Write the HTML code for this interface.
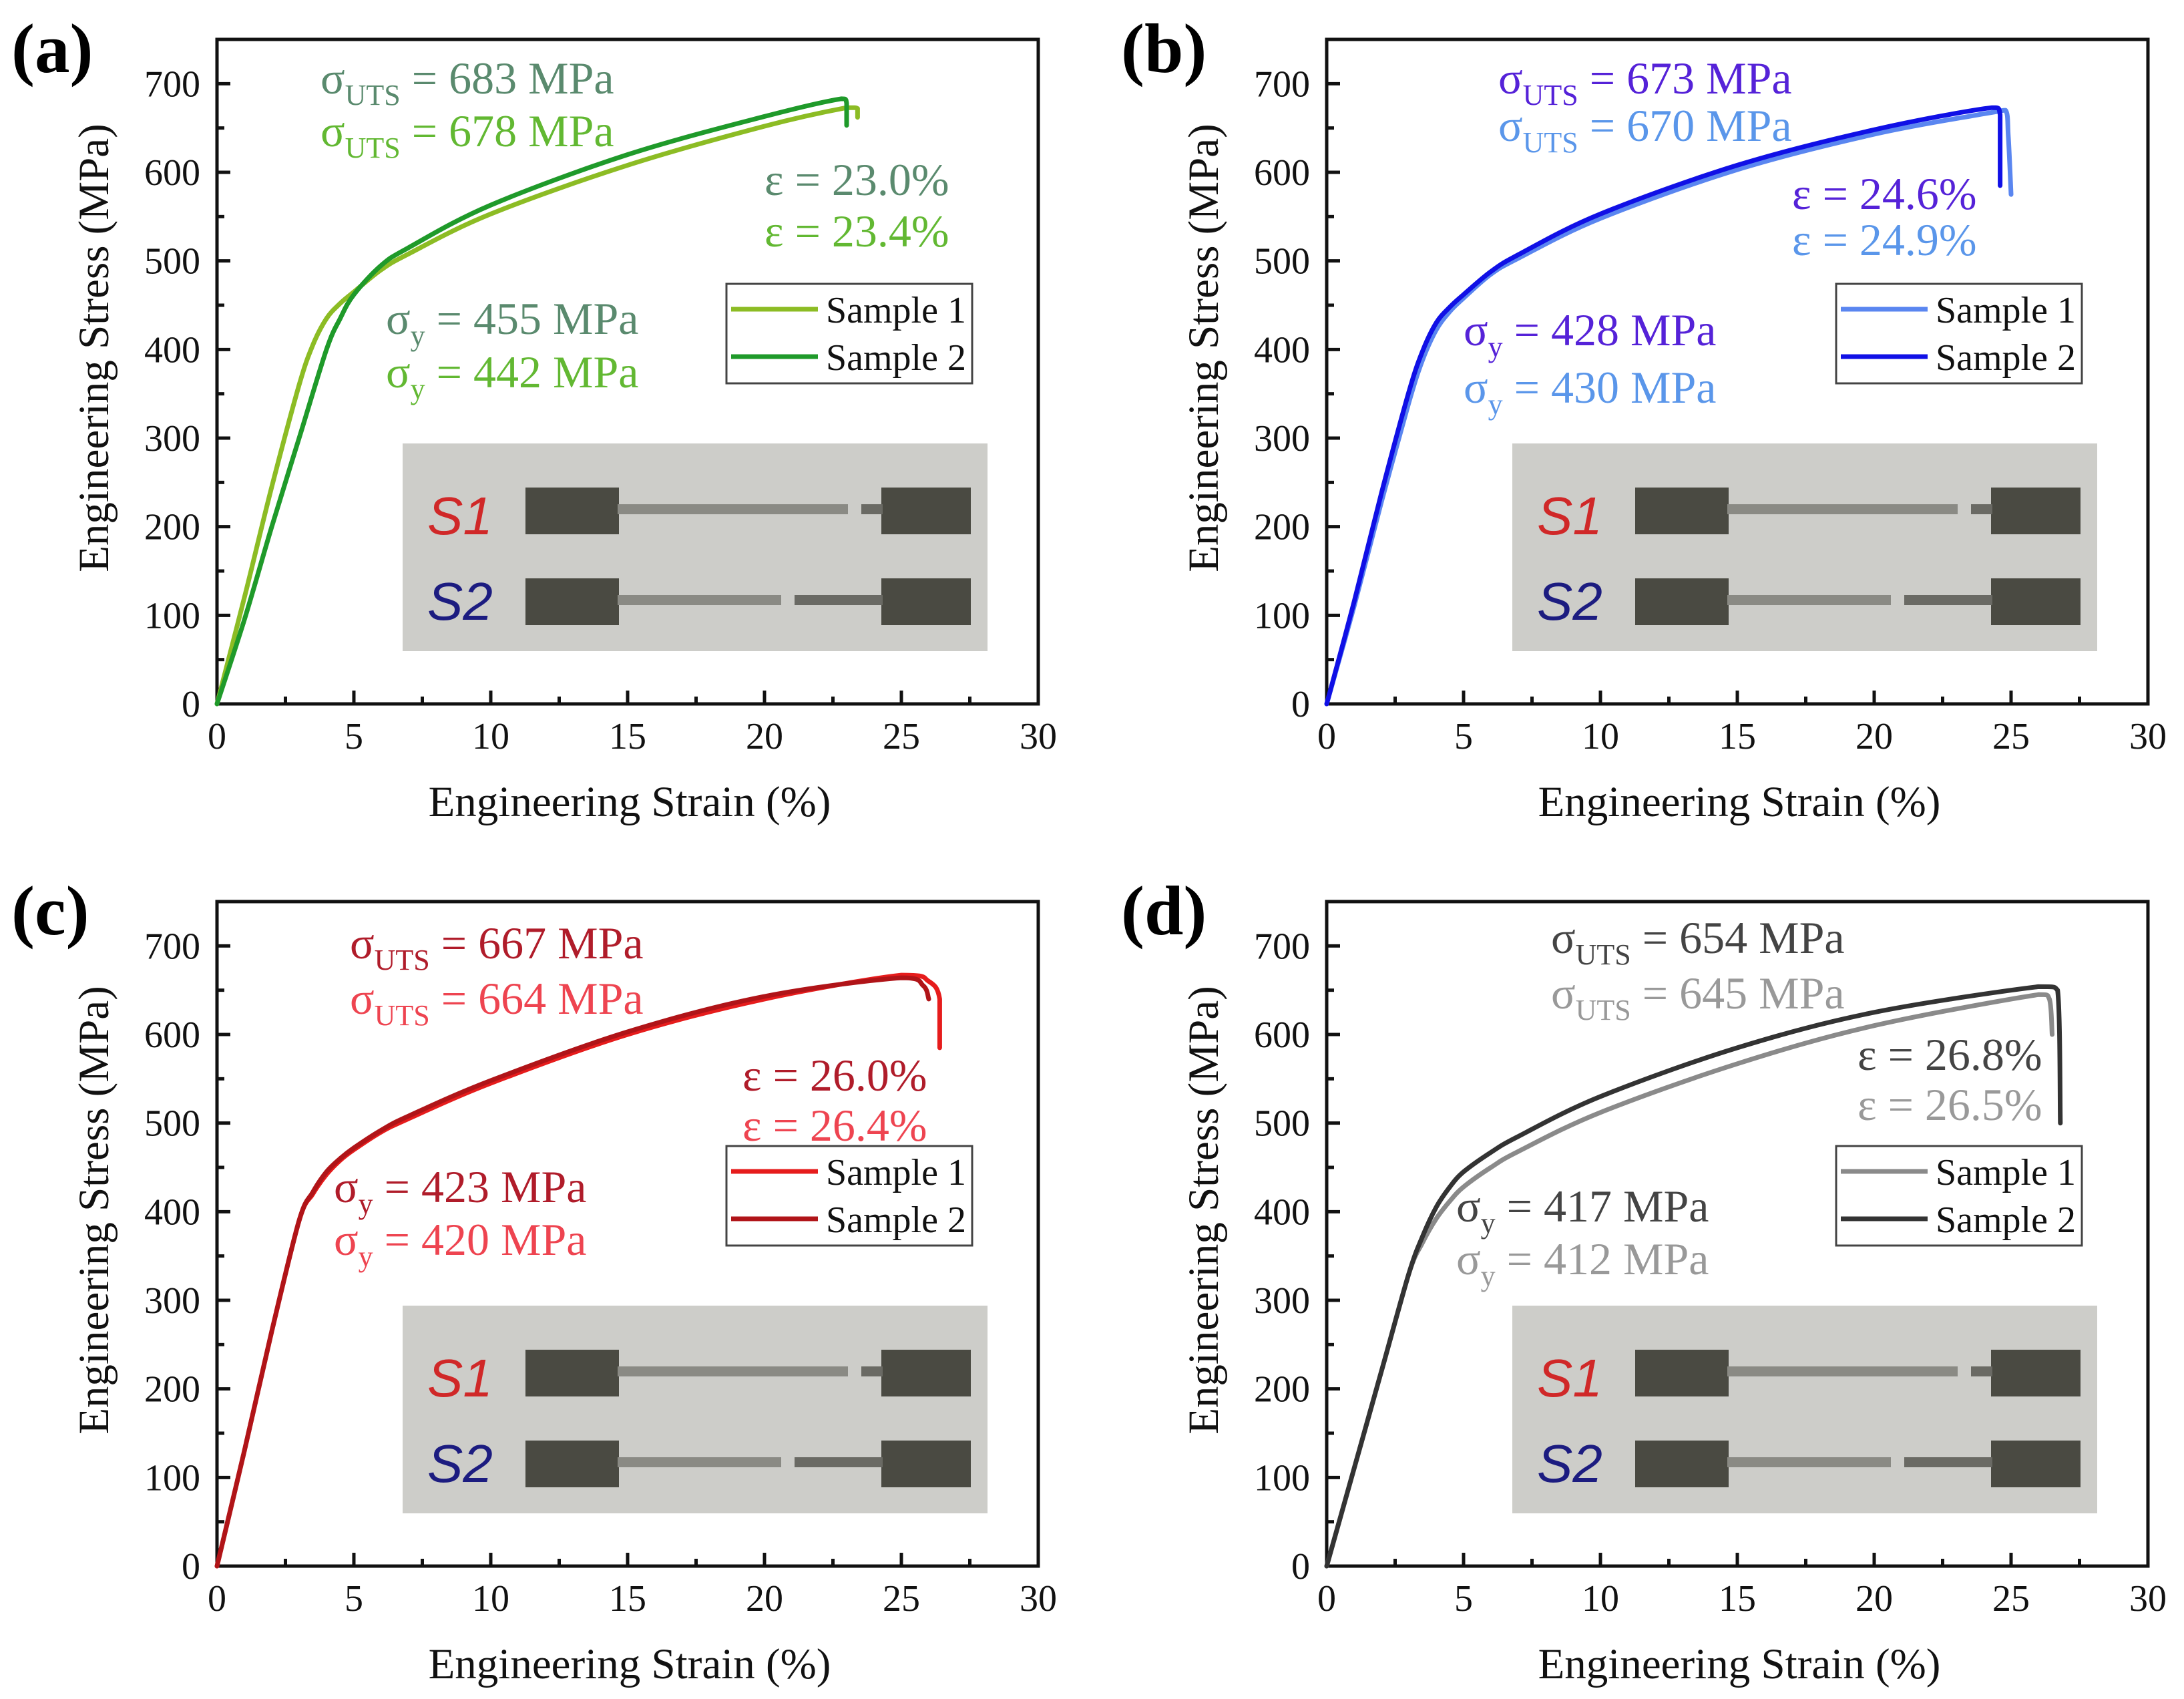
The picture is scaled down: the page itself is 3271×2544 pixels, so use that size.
<!DOCTYPE html>
<html><head><meta charset="utf-8"><style>
html,body{margin:0;padding:0;background:#fff;}
svg{display:block;font-family:"Liberation Serif",serif;}
</style></head><body>
<svg id="fig" width="3271" height="2544" viewBox="0 0 3271 2544" xmlns="http://www.w3.org/2000/svg"></svg>
<script>
// ---- data (strain %, stress MPa) ----
const aS1x=[0,1,2,3,3.5,4,4.5,5,6,7,10,15,20,23,23.4,23.4];
const aS1y=[0,120,245,360,405,435,452,465,490,508,553,608,652,673,672,662];
const aS2x=[0,1,2,3,4,4.5,5,6,7,10,15,20,22.8,23.0,23.0];
const aS2y=[0,95,200,300,400,435,462,495,515,563,620,663,683,678,653];
const bS1x=[0,1,2,3,3.5,4,4.5,5,6,7,10,15,20,24,24.8,24.9,25];
const bS1y=[0,110,228,340,388,422,443,458,485,503,548,603,643,666,670,640,575];
const bS2x=[0,1,2,3,3.5,4,4.5,5,6,7,10,15,20,24.3,24.6,24.6];
const bS2y=[0,115,238,352,398,430,448,462,488,507,553,608,648,673,665,585];
const cS1x=[0,1,2,3,3.5,4,4.5,5,6,7,10,15,20,25,26,26.4,26.4];
const cS1y=[0,130,265,390,420,442,458,470,490,505,545,600,640,667,660,640,585];
const cS2x=[0,1,2,3,3.5,4,4.5,5,6,7,10,15,20,25,25.8,26];
const cS2y=[0,130,265,390,422,445,460,472,492,508,548,603,643,664,655,640];
const dS1x=[0,1,2,3,3.5,4,4.5,5,6,7,10,15,20,26,26.4,26.5];
const dS1y=[0,110,220,330,365,392,412,428,450,468,512,567,610,645,640,600];
const dS2x=[0,1,2,3,3.5,4,4.5,5,6,7,10,15,20,26,26.7,26.8];
const dS2y=[0,110,220,330,372,405,428,445,467,485,530,585,625,654,650,500];
const xTicks=[0,5,10,15,20,25,30];
const yTicks=[0,100,200,300,400,500,600,700];

const panels=[
 {id:'a',ox:0,oy:0,s1x:aS1x,s1y:aS1y,s2x:aS2x,s2y:aS2y,c1:'#8cbc24',c2:'#1f9a2a',t1:'#5a8a6e',t2:'#62b832',
  uts:['683','678'],eps:['23.0%','23.4%'],ys:['455','442'],ux:480,uy:[140,219],ex:1145,ey:[292,369],yx:578,yy:[500,580]},
 {id:'b',ox:1662,oy:0,s1x:bS1x,s1y:bS1y,s2x:bS2x,s2y:bS2y,c1:'#5a86f0',c2:'#1010e6',t1:'#5522d8',t2:'#5a96ea',
  uts:['673','670'],eps:['24.6%','24.9%'],ys:['428','430'],ux:582,uy:[140,211],ex:1022,ey:[313,382],yx:530,yy:[517,603]},
 {id:'c',ox:0,oy:1291,s1x:cS1x,s1y:cS1y,s2x:cS2x,s2y:cS2y,c1:'#e61c1c',c2:'#b01418',t1:'#b01c2a',t2:'#ee4450',
  uts:['667','664'],eps:['26.0%','26.4%'],ys:['423','420'],ux:524,uy:[144,227],ex:1112,ey:[342,417],yx:500,yy:[509,588]},
 {id:'d',ox:1662,oy:1291,s1x:dS1x,s1y:dS1y,s2x:dS2x,s2y:dS2y,c1:'#8a8a8a',c2:'#333333',t1:'#444444',t2:'#999999',
  uts:['654','645'],eps:['26.8%','26.5%'],ys:['417','412'],ux:661,uy:[136,219],ex:1120,ey:[311,386],yx:519,yy:[538,617]}
];

const NS='http://www.w3.org/2000/svg';
const svg=document.getElementById('fig');
function mk(tag,attrs,parent){const e=document.createElementNS(NS,tag);for(const k in attrs)e.setAttribute(k,attrs[k]);(parent||svg).appendChild(e);return e;}
const X0=325,X1=1555,Y0=1054,Y1=59;
function sx(v){return X0+(v/30)*(X1-X0);}
function sy(v){return Y0-(v/750)*(Y0-Y1);}
function clamp(v,a,b){const lo=Math.min(a,b),hi=Math.max(a,b);return Math.max(lo,Math.min(hi,v));}
function smooth(xs,ys){
  const P=xs.map((v,i)=>[sx(v),sy(ys[i])]);
  let d='M'+P[0][0].toFixed(1)+','+P[0][1].toFixed(1);
  for(let i=0;i<P.length-1;i++){
    const p0=P[Math.max(0,i-1)],p1=P[i],p2=P[i+1],p3=P[Math.min(P.length-1,i+2)];
    const k=1/6;
    const c1=[clamp(p1[0]+(p2[0]-p0[0])*k,p1[0],p2[0]),clamp(p1[1]+(p2[1]-p0[1])*k,p1[1],p2[1])];
    const c2=[clamp(p2[0]-(p3[0]-p1[0])*k,p1[0],p2[0]),clamp(p2[1]-(p3[1]-p1[1])*k,p1[1],p2[1])];
    d+=' C'+c1.map(v=>v.toFixed(1)).join(',')+' '+c2.map(v=>v.toFixed(1)).join(',')+' '+p2[0].toFixed(1)+','+p2[1].toFixed(1);
  }
  return d;
}

panels.forEach(p=>{
 const g=mk('g',{transform:`translate(${p.ox},${p.oy})`});
 
 
 const lab=mk('text',{x:17,y:108,'font-size':105,'font-weight':'bold',fill:'#000'},g);
 lab.textContent='('+p.id+')';
 
 
 // inset photo
 const ins=mk('g',{},g);
 
 
 mk('rect',{x:603,y:664,width:876,height:311,fill:'#cdcdc9'},ins);
 const sp=(y,gap)=>{
   mk('rect',{x:787,y:y,width:140,height:70,fill:'#4a4a42'},ins);
   mk('rect',{x:1320,y:y,width:134,height:70,fill:'#4a4a42'},ins);
   mk('rect',{x:925,y:y+25,width:gap-925,height:15,fill:'#8a8a84'},ins);
   mk('rect',{x:gap+20,y:y+25,width:1322-gap-20,height:15,fill:'#6a6a64'},ins);
 };
 sp(730,1270); sp(866,1170);
 const t1=mk('text',{x:640,y:800,'font-size':80,'font-style':'italic',fill:'#d02828','font-family':'Liberation Sans, sans-serif'},ins);t1.textContent='S1';
 const t2=mk('text',{x:640,y:928,'font-size':80,'font-style':'italic',fill:'#1c1c80','font-family':'Liberation Sans, sans-serif'},ins);t2.textContent='S2';
 // frame
 const fr=mk('rect',{x:X0,y:Y1,width:X1-X0,height:Y0-Y1,fill:'none',stroke:'#111','stroke-width':5},g);
 
 
 // ticks
 xTicks.forEach((v,i)=>{
   mk('line',{x1:sx(v),x2:sx(v),y1:Y0,y2:Y0-20,stroke:'#111','stroke-width':5},g);
   if(i<xTicks.length-1){const m=v+2.5;mk('line',{x1:sx(m),x2:sx(m),y1:Y0,y2:Y0-11,stroke:'#111','stroke-width':5},g);}
   const t=mk('text',{x:sx(v),y:1121,'font-size':56,'text-anchor':'middle',fill:'#111'},g);
   t.textContent=String(v);
   
   
 });
 yTicks.forEach(v=>{
   mk('line',{x1:X0,x2:X0+20,y1:sy(v),y2:sy(v),stroke:'#111','stroke-width':5},g);
   mk('line',{x1:X0,x2:X0+11,y1:sy(v+50),y2:sy(v+50),stroke:'#111','stroke-width':5},g);
   const t=mk('text',{x:300,y:sy(v)+19,'font-size':56,'text-anchor':'end',fill:'#111'},g);
   t.textContent=String(v);
   
   
 });
 const xt=mk('text',{x:943,y:1222,'font-size':65,'text-anchor':'middle',fill:'#111'},g);
 xt.textContent='Engineering Strain (%)';
 
 
 const yt=mk('text',{x:0,y:0,'font-size':65,'text-anchor':'middle',fill:'#111',transform:'translate(162,521) rotate(-90)'},g);
 yt.textContent='Engineering Stress (MPa)';
 
 
 // curves
 [[p.s1x,p.s1y,p.c1,'sample-1-curve'],[p.s2x,p.s2y,p.c2,'sample-2-curve']].forEach(s=>{
   const pa=mk('path',{d:smooth(s[0],s[1]),fill:'none',stroke:s[2],'stroke-width':7,'stroke-linejoin':'round','stroke-linecap':'round'},g);
   
   
 });
 // annotations
 const ann=(x,y,col,sym,sub,rest,name)=>{
   const t=mk('text',{x:x,y:y,'font-size':68,fill:col},g);
   
   
   const a=mk('tspan',{},t);a.textContent=sym;
   if(sub){const b=mk('tspan',{'font-size':44,dy:17},t);b.textContent=sub;
     const c=mk('tspan',{dy:-17},t);c.textContent=rest;}
   else {const c=mk('tspan',{},t);c.textContent=rest;}
 };
 [0,1].forEach(i=>{
   const col=i?p.t2:p.t1;
   ann(p.ux,p.uy[i],col,'σ','UTS',' = '+p.uts[i]+' MPa','uts-annotation');
   ann(p.ex,p.ey[i],col,'ε','',' = '+p.eps[i],'elongation-annotation');
   ann(p.yx,p.yy[i],col,'σ','y',' = '+p.ys[i]+' MPa','yield-annotation');
 });
 // legend
 const lg=mk('g',{},g);
 
 
 mk('rect',{x:1088,y:425,width:368,height:149,fill:'#fff',stroke:'#444','stroke-width':3},lg);
 [[p.c1,'Sample 1',463],[p.c2,'Sample 2',534]].forEach(e=>{
   mk('line',{x1:1095,x2:1225,y1:e[2],y2:e[2],stroke:e[0],'stroke-width':7},lg);
   const t=mk('text',{x:1237,y:e[2]+20,'font-size':56,fill:'#111'},lg);
   t.textContent=e[1];
   
   
 });
});
</script>
</body></html>
